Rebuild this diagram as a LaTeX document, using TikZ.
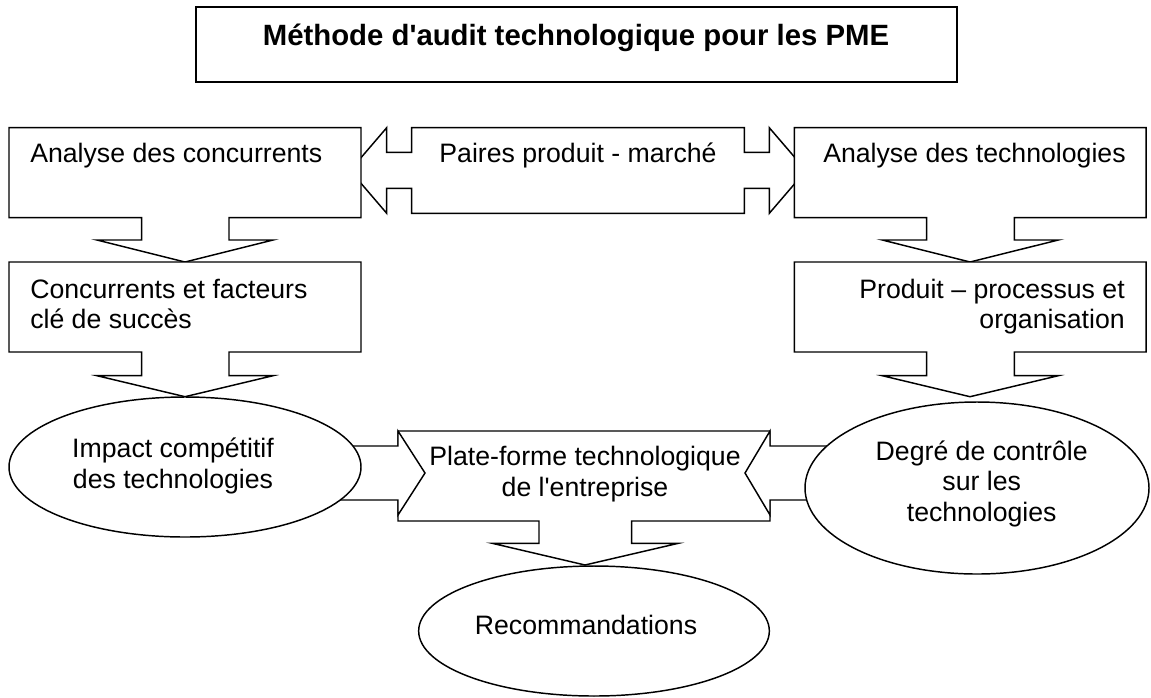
\documentclass[tikz,border=0pt]{standalone}
\usepackage{fontspec}
\setmainfont{Liberation Sans}
\begin{document}
\begin{tikzpicture}[x=0.75pt,y=-0.75pt,
  blk/.style={draw=black, fill=white, line width=1.1pt, line join=miter},
  lbl/.style={inner sep=0pt, font=\fontsize{20}{24}\selectfont},
  ttl/.style={inner sep=0pt, font=\fontsize{22}{26}\selectfont\bfseries}]
\useasboundingbox (0,0) rectangle (1151,697);

% title box
\draw[blk] (196,7) rectangle (957,82);

% double arrow callout: Paires produit - marche
\draw[blk] (350,170.5) -- (386.7,127.7) -- (386.7,152.3) -- (411.7,152.3) -- (411.7,127.7)
  -- (744.3,127.7) -- (744.3,152.3) -- (769.3,152.3) -- (769.3,127.7) -- (806,170.5)
  -- (769.3,213.3) -- (769.3,188.3) -- (744.3,188.3) -- (744.3,213.3) -- (411.7,213.3)
  -- (411.7,188.3) -- (386.7,188.3) -- (386.7,213.3) -- cycle;

% down arrow callouts
\draw[blk] (9,127.7) -- (361,127.7) -- (361,217.7) -- (229,217.7) -- (229,240) -- (273,240)
  -- (185,262) -- (97,240) -- (141.7,240) -- (141.7,217.7) -- (9,217.7) -- cycle;
\draw[blk] (794.3,127.7) -- (1146,127.7) -- (1146,217.7) -- (1014.3,217.7) -- (1014.3,240) -- (1058.3,240)
  -- (970,262) -- (882.3,240) -- (926.7,240) -- (926.7,217.7) -- (794.3,217.7) -- cycle;
\draw[blk] (9,262) -- (361,262) -- (361,352) -- (229,352) -- (229,375.7) -- (273,375.7)
  -- (185,396.7) -- (97,375.7) -- (141.7,375.7) -- (141.7,352) -- (9,352) -- cycle;
\draw[blk] (794.3,262) -- (1146,262) -- (1146,352) -- (1014.3,352) -- (1014.3,375.7) -- (1058.3,375.7)
  -- (970,396.7) -- (882.3,375.7) -- (926.7,375.7) -- (926.7,352) -- (794.3,352) -- cycle;

% platform callout
\draw[blk] (398,431) -- (770,431) -- (770,521) -- (631.7,521) -- (631.7,543.3) -- (678.3,543.3)
  -- (585,565) -- (492.3,543.3) -- (539,543.3) -- (539,521) -- (398,521) -- cycle;

% side arrows into the platform
\draw[blk] (300,446) -- (398,446) -- (398,431) -- (425,473) -- (398,515) -- (398,500) -- (300,500) -- cycle;
\draw[blk] (900,446) -- (770,446) -- (770,431) -- (745,473) -- (770,515) -- (770,500) -- (900,500) -- cycle;

% ellipses
\draw[blk] (185,467) ellipse [x radius=132pt, y radius=52.5pt];
\draw[blk] (977,488) ellipse [x radius=129pt, y radius=64.5pt];
\draw[blk] (594,631) ellipse [x radius=131.5pt, y radius=48.75pt];

% texts
\node[ttl, anchor=base] (title) at (576,45) {Méthode d\textquotesingle audit technologique pour les PME};
\node[lbl, anchor=base west] (tA) at (30,162.7) {Analyse des concurrents};
\node[lbl, anchor=base] (tP) at (578,162.7) {Paires produit - marché};
\node[lbl, anchor=base west] (tC) at (823,162.7) {Analyse des technologies};
\node[lbl, anchor=base west] (tB1) at (30,298.3) {Concurrents et facteurs};
\node[lbl, anchor=base west] (tB2) at (30,328.3) {clé de succès};
\node[lbl, anchor=base east] (tD1) at (1125,298.3) {Produit – processus et};
\node[lbl, anchor=base east] (tD2) at (1125,328.3) {organisation};
\node[lbl, anchor=base] (tE1) at (173,457) {Impact compétitif};
\node[lbl, anchor=base] (tE2) at (173,488) {des technologies};
\node[lbl, anchor=base] (tF1) at (585,465) {Plate-forme technologique};
\node[lbl, anchor=base] (tF2) at (585,496.7) {de l\textquotesingle entreprise};
\node[lbl, anchor=base] (tG1) at (981.7,460) {Degré de contrôle};
\node[lbl, anchor=base] (tG2) at (981.7,490.7) {sur les};
\node[lbl, anchor=base] (tG3) at (981.7,521.7) {technologies};
\node[lbl, anchor=base] (tR) at (586,634) {Recommandations};
\end{tikzpicture}
\end{document}
